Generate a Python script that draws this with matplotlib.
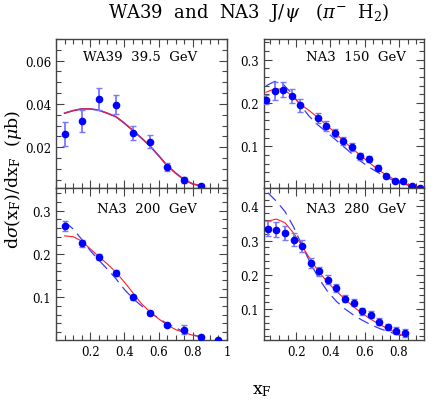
import matplotlib
matplotlib.use("Agg")
import matplotlib.pyplot as plt
from matplotlib.ticker import MultipleLocator, FuncFormatter

plt.rcParams['font.family'] = ['DejaVu Serif']
plt.rcParams['mathtext.fontset'] = 'dejavuserif'

W, H = 436, 402

# WA39 39.5 GeV
wa39_x = [0.05, 0.15, 0.25, 0.35, 0.45, 0.55, 0.65, 0.75, 0.85]
wa39_y = [0.0260, 0.0320, 0.0422, 0.0397, 0.0267, 0.0226, 0.0109, 0.0048, 0.0020]
wa39_err = [0.0055, 0.0050, 0.0050, 0.0042, 0.0033, 0.0030, 0.0020, 0.0015, 0.0010]
wa39_cx = [0.05, 0.10, 0.15, 0.20, 0.25, 0.30, 0.35, 0.40, 0.45, 0.50, 0.55,
           0.60, 0.65, 0.70, 0.75, 0.80, 0.85]
wa39_red = [0.0357, 0.0369, 0.0377, 0.0377, 0.0371, 0.0357, 0.0341, 0.0311, 0.0277,
            0.0242, 0.0205, 0.0161, 0.0115, 0.0080, 0.0049, 0.0030, 0.0021]
wa39_blue = wa39_red

# NA3 150 GeV
na150_x = [0.025, 0.075, 0.125, 0.175, 0.225, 0.325, 0.375, 0.425, 0.475, 0.525,
           0.575, 0.625, 0.675, 0.725, 0.775, 0.825, 0.875, 0.925]
na150_y = [0.208, 0.228, 0.231, 0.216, 0.195, 0.165, 0.147, 0.131, 0.112, 0.098,
           0.077, 0.071, 0.051, 0.032, 0.021, 0.021, 0.008, 0.004]
na150_err = [0.011, 0.020, 0.018, 0.016, 0.015, 0.012, 0.011, 0.010, 0.010, 0.009,
             0.008, 0.007, 0.006, 0.005, 0.004, 0.004, 0.003, 0.003]
na150_cx = [0.025, 0.075, 0.125, 0.175, 0.225, 0.275, 0.325, 0.375, 0.425, 0.475,
            0.525, 0.575, 0.625, 0.675, 0.725, 0.775, 0.825, 0.875, 0.925]
na150_red = [0.225, 0.233, 0.232, 0.217, 0.197, 0.183, 0.167, 0.150, 0.132, 0.113,
             0.096, 0.079, 0.063, 0.047, 0.034, 0.023, 0.015, 0.009, 0.005]
na150_blue = [0.240, 0.250, 0.243, 0.222, 0.195, 0.170, 0.150, 0.134, 0.117, 0.100,
              0.083, 0.066, 0.052, 0.040, 0.029, 0.020, 0.013, 0.008, 0.005]

# NA3 200 GeV
na200_x = [0.05, 0.15, 0.25, 0.35, 0.45, 0.55, 0.65, 0.75, 0.85, 0.95]
na200_y = [0.265, 0.225, 0.194, 0.155, 0.100, 0.063, 0.036, 0.025, 0.007, 0.002]
na200_err = [0.012, 0.008, 0.007, 0.007, 0.006, 0.005, 0.005, 0.011, 0.002, 0.001]
na200_cx = [0.05, 0.10, 0.15, 0.20, 0.25, 0.30, 0.35, 0.40, 0.45, 0.50, 0.55,
            0.60, 0.65, 0.70, 0.75, 0.80, 0.85]
na200_red = [0.242, 0.240, 0.230, 0.212, 0.194, 0.177, 0.158, 0.135, 0.110, 0.085,
             0.066, 0.050, 0.036, 0.025, 0.018, 0.012, 0.008]
na200_blue = [0.275, 0.258, 0.234, 0.208, 0.186, 0.165, 0.143, 0.118, 0.097, 0.080,
              0.065, 0.051, 0.039, 0.029, 0.020, 0.013, 0.008]

# NA3 280 GeV
na280_x = [0.035, 0.085, 0.135, 0.185, 0.235, 0.285, 0.335, 0.385, 0.435, 0.485,
           0.535, 0.585, 0.635, 0.685, 0.735, 0.785, 0.835]
na280_y = [0.334, 0.332, 0.322, 0.303, 0.284, 0.234, 0.210, 0.185, 0.161, 0.130,
           0.118, 0.093, 0.083, 0.062, 0.047, 0.036, 0.030]
na280_err = [0.022, 0.022, 0.020, 0.020, 0.018, 0.015, 0.014, 0.013, 0.012, 0.011,
             0.010, 0.010, 0.010, 0.010, 0.010, 0.010, 0.011]
na280_cx = na280_x
na280_red = [0.357, 0.363, 0.352, 0.322, 0.284, 0.243, 0.207, 0.177, 0.152, 0.128,
             0.106, 0.087, 0.070, 0.055, 0.042, 0.030, 0.020]
na280_blue = [0.440, 0.415, 0.385, 0.340, 0.285, 0.232, 0.187, 0.150, 0.122, 0.100,
              0.082, 0.067, 0.054, 0.043, 0.034, 0.026, 0.019]


def fmt(v, pos):
    if abs(v) < 1e-9:
        return ''
    return '%g' % round(v, 4)


def panel(rect, xlim, ylim, ymaj, ymin, x, y, err, cx, red, blue, label, lpos,
          xlabels, blue_dashed=True):
    l, r, t, b = rect
    ax = fig.add_axes([l / W, 1 - b / H, (r - l) / W, (b - t) / H])
    if blue_dashed:
        ax.plot(cx, blue, color='#3a3aff', lw=0.9, dashes=(9, 5), zorder=2)
    else:
        ax.plot(cx, blue, color='#3a3aff', lw=1.2, zorder=2)
    ax.plot(cx, red, color='#ff2020', lw=0.8, zorder=2)
    ax.errorbar(x, y, yerr=err, fmt='o', color='#0000ff', ms=4.5,
                ecolor='#7878ff', elinewidth=1.3, capsize=2.5, capthick=1.0,
                zorder=3)
    ax.set_xlim(*xlim)
    ax.set_ylim(*ylim)
    ax.xaxis.set_major_locator(MultipleLocator(0.2))
    ax.xaxis.set_minor_locator(MultipleLocator(0.05))
    ax.yaxis.set_major_locator(MultipleLocator(ymaj))
    ax.yaxis.set_minor_locator(MultipleLocator(ymin))
    ax.xaxis.set_major_formatter(FuncFormatter(fmt))
    ax.yaxis.set_major_formatter(FuncFormatter(fmt))
    ax.tick_params(which='both', direction='in', top=True, right=True,
                   color='#444444', labelsize=8.5, labelbottom=xlabels)
    ax.tick_params(which='major', length=6, width=0.8)
    ax.tick_params(which='minor', length=3.5, width=0.8)
    for s in ax.spines.values():
        s.set_color('#444444')
        s.set_linewidth(1.0)
    ax.text(lpos[0], lpos[1], label, transform=ax.transAxes, ha='right',
            va='center', fontsize=9.5)
    return ax


fig = plt.figure(figsize=(W / 100, H / 100), dpi=100)

panel((56, 227, 40, 189.3), (0, 1), (0.001, 0.070), 0.02, 0.005,
      wa39_x, wa39_y, wa39_err, wa39_cx, wa39_red, wa39_blue,
      'WA39  39.5  GeV', (0.825, 0.88), False, blue_dashed=False)
panel((264, 424, 40, 189.3), (0.0125, 0.946), (0.003, 0.348), 0.1, 0.02,
      na150_x, na150_y, na150_err, na150_cx, na150_red, na150_blue,
      'NA3  150  GeV', (0.885, 0.88), False)
panel((56, 227, 189.3, 341), (0, 1), (0.001, 0.352), 0.1, 0.02,
      na200_x, na200_y, na200_err, na200_cx, na200_red, na200_blue,
      'NA3  200  GeV', (0.825, 0.865), True)
panel((264, 424, 189.3, 341), (0.0125, 0.946), (0.009, 0.453), 0.1, 0.02,
      na280_x, na280_y, na280_err, na280_cx, na280_red, na280_blue,
      'NA3  280  GeV', (0.885, 0.865), True)

fig.text(249 / W, 1 - 12 / H, r'WA39  and  NA3  J/$\psi$   ($\pi^{-}$  H$_2$)',
         ha='center', va='center', fontsize=13)
fig.text(14 / W, 1 - 180 / H, r'd$\sigma$(x$_{\rm F}$)/dx$_{\rm F}$  ($\mu$b)',
         rotation=90, ha='center', va='center', fontsize=12.5)
fig.text(262 / W, 1 - 391 / H, r'x$_{\rm F}$', ha='center', va='center',
         fontsize=12.5)

fig.savefig('out.png', dpi=100)
